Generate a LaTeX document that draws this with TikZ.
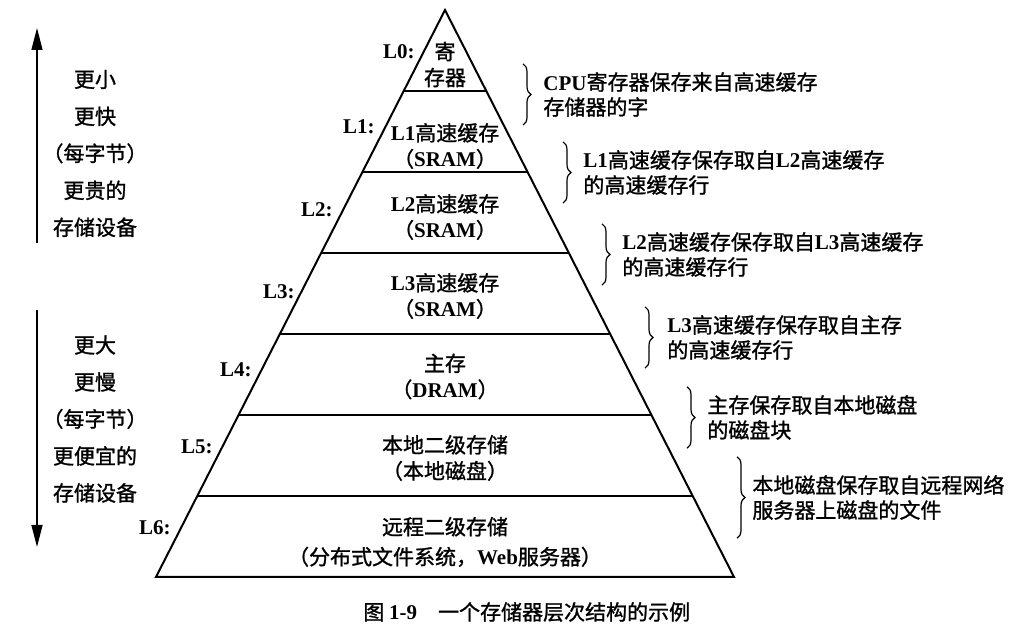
\documentclass[tikz,border=0pt]{standalone}
\usepackage{fontspec}
\setmainfont{Liberation Serif}
\newfontfamily\cjk[FakeBold=1.2]{Noto Sans CJK SC}
\usetikzlibrary{arrows.meta, calc, decorations.pathreplacing}
\newcommand\en[1]{{\rmfamily\bfseries #1}}
\tikzset{
    level/.style={font=\cjk\fontsize{10.5}{13}\selectfont, align=center, inner sep=0pt},
    tag/.style={font=\bfseries\fontsize{10.5}{13}\selectfont, anchor=east, inner sep=0pt},
    note/.style={font=\cjk\fontsize{10.5}{12.5}\selectfont, align=left, anchor=west, inner sep=0pt},
    side/.style={font=\cjk\fontsize{10.5}{18.5}\selectfont, align=center, inner sep=0pt},
    span/.style={decorate, decoration={brace, amplitude=4pt}, line width=0.6pt},
    trend/.style={-{Triangle[length=11pt, width=5.5pt]}, line width=0.7pt},
    edge/.style={line width=1pt}
}

\begin{document}
\begin{tikzpicture}[x=0.5pt, y=0.5pt]
    \useasboundingbox (0,0) rectangle (1017,640);
    % Pyramid
    \coordinate (apex) at (445,630);
    \coordinate (bl) at (156,63);
    \coordinate (br) at (734,63);
    \draw[edge, line join=miter] (apex) -- (bl) -- (br) -- cycle;
    \foreach \k in {1,...,6}
        \draw[edge] ($(apex)!\k/7!(bl)$) -- ($(apex)!\k/7!(br)$);

    % Levels
    \node[level] (reg)  at (445,575.5) {寄\\存器};
    \node[level] (l1)   at (445,494)   {\en{L1}高速缓存\\（\en{SRAM}）};
    \node[level] (l2)   at (445,423)   {\en{L2}高速缓存\\（\en{SRAM}）};
    \node[level] (l3)   at (445,344)   {\en{L3}高速缓存\\（\en{SRAM}）};
    \node[level] (mem)  at (445,263.5) {主存\\（\en{DRAM}）};
    \node[level] (disk) at (445,182)   {本地二级存储\\（本地磁盘）};
    \node[level] (net)  at (445,98)    {远程二级存储\\[2pt]（分布式文件系统，\en{Web}服务器）};

    \node[tag] (t0) at (415,588) {L0:};
    \node[tag] (t1) at (375,513) {L1:};
    \node[tag] (t2) at (333,430) {L2:};
    \node[tag] (t3) at (295,348) {L3:};
    \node[tag] (t4) at (252,270) {L4:};
    \node[tag] (t5) at (213,193) {L5:};
    \node[tag] (t6) at (171,112) {L6:};

    % Trends on the left
    \coordinate (up0) at (37,397); \coordinate (up1) at (37,612);
    \coordinate (dn0) at (37,330); \coordinate (dn1) at (37,93);
    \draw[trend] (up0) -- (up1);
    \draw[trend] (dn0) -- (dn1);
    \node[side] (fast) at (95,486.5) {更小\\更快\\（每字节）\\更贵的\\存储设备};
    \node[side] (slow) at (95,221)   {更大\\更慢\\（每字节）\\更便宜的\\存储设备};

    % Notes on the right
    \node[note] (n0) at (543,545.5) {\en{CPU}寄存器保存来自高速缓存\\存储器的字};
    \node[note] (n1) at (583,467.5) {\en{L1}高速缓存保存取自\en{L2}高速缓存\\的高速缓存行};
    \node[note] (n2) at (622,385.5) {\en{L2}高速缓存保存取自\en{L3}高速缓存\\的高速缓存行};
    \node[note] (n3) at (667,302.5) {\en{L3}高速缓存保存取自主存\\的高速缓存行};
    \node[note] (n4) at (707,222.5) {主存保存取自本地磁盘\\的磁盘块};
    \node[note] (n5) at (752,142.5) {本地磁盘保存取自远程网络\\服务器上磁盘的文件};
    \foreach \i/\e/\d in {0/4pt/10pt, 1/4pt/10pt, 2/4pt/10pt, 3/4pt/11pt, 4/4pt/10pt, 5/9pt/7.5pt}
        \draw[span] ([xshift=-\d, yshift=\e]n\i.north west) -- ([xshift=-\d, yshift=-\e]n\i.south west);

    \node[level, anchor=west] (cap) at (363,28) {图 \en{1-9}\quad 一个存储器层次结构的示例};
\end{tikzpicture}
\end{document}
